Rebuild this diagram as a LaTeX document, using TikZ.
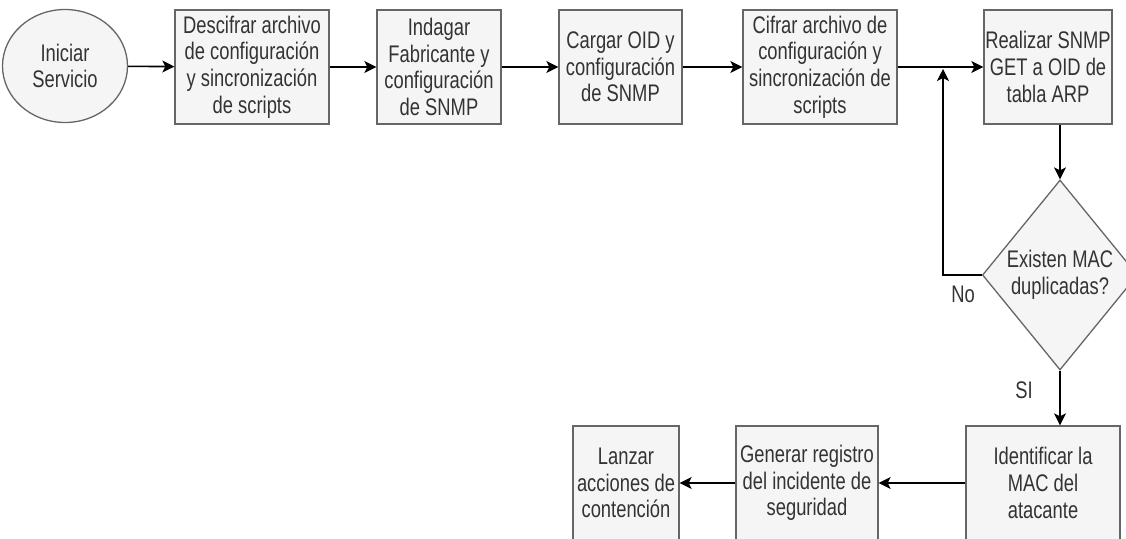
\documentclass[tikz,border=0pt]{standalone}
\usepackage{fontspec}
\setmainfont{Liberation Sans}[FakeStretch=0.765]
\usetikzlibrary{shapes.geometric,arrows.meta}
\definecolor{boxfill}{HTML}{F5F5F5}
\definecolor{boxline}{HTML}{666666}
\definecolor{boxtext}{HTML}{333333}

\begin{document}
\begin{tikzpicture}[x=1pt,y=-1pt,
  every node/.style={font=\fontsize{24}{26.7}\selectfont, text=boxtext},
  proc/.style={draw=boxline, fill=boxfill, line width=1.3pt, rectangle,
    align=center, inner sep=0pt, minimum height=114pt},
  decision/.style={draw=boxline, fill=boxfill, line width=1.3pt, diamond,
    align=center, inner sep=0pt, minimum width=146pt, minimum height=190pt},
  flow/.style={draw=black, line width=1.6pt,
    -{Stealth[length=12pt,width=12pt,inset=3pt]}}]
\useasboundingbox (0,0) rectangle (1126,538);

% top row
\node[proc, ellipse, minimum width=125pt, minimum height=113pt] (start) at (65,66) {Iniciar\\Servicio};
\node[proc, minimum width=154pt] (descifrar) at (252,67) {Descifrar archivo\\de configuración\\y sincronización\\de scripts};
\node[proc, minimum width=124pt] (indagar) at (439,67) {Indagar\\Fabricante y\\configuración\\de SNMP};
\node[proc, minimum width=123pt] (cargar) at (620.5,67) {Cargar OID y\\configuración\\de SNMP};
\node[proc, minimum width=154pt] (cifrar) at (820,67) {Cifrar archivo de\\configuración y\\sincronización de\\scripts};
\node[proc, minimum width=128pt] (snmp) at (1048,67) {Realizar SNMP\\GET a OID de\\tabla ARP};

% decision
\node[decision] (dup) at (1060,275) {Existen MAC\\duplicadas?};

% bottom row
\node[proc, minimum width=154pt] (ident) at (1043,483) {Identificar la\\MAC del\\atacante};
\node[proc, minimum width=142pt] (registro) at (807,483) {Generar registro\\del incidente de\\seguridad};
\node[proc, minimum width=106pt] (lanzar) at (626,483) {Lanzar\\acciones de\\contención};

% connectors
\draw[flow] (start) -- (descifrar);
\draw[flow] (descifrar) -- (indagar);
\draw[flow] (indagar) -- (cargar);
\draw[flow] (cargar) -- (cifrar);
\draw[flow] (cifrar) -- (snmp);
\draw[flow] (dup.north |- snmp.south) -- (dup.north);
\coordinate (loopend) at (943,69);
\draw[flow] (dup.west) -| (loopend);
\draw[flow] (dup.south) -- (dup.south |- ident.north);
\draw[flow] (ident) -- (registro);
\draw[flow] (registro) -- (lanzar);

% branch labels
\node (no) at (963,294) {No};
\node (si) at (1024,390) {SI};
\end{tikzpicture}
\end{document}
